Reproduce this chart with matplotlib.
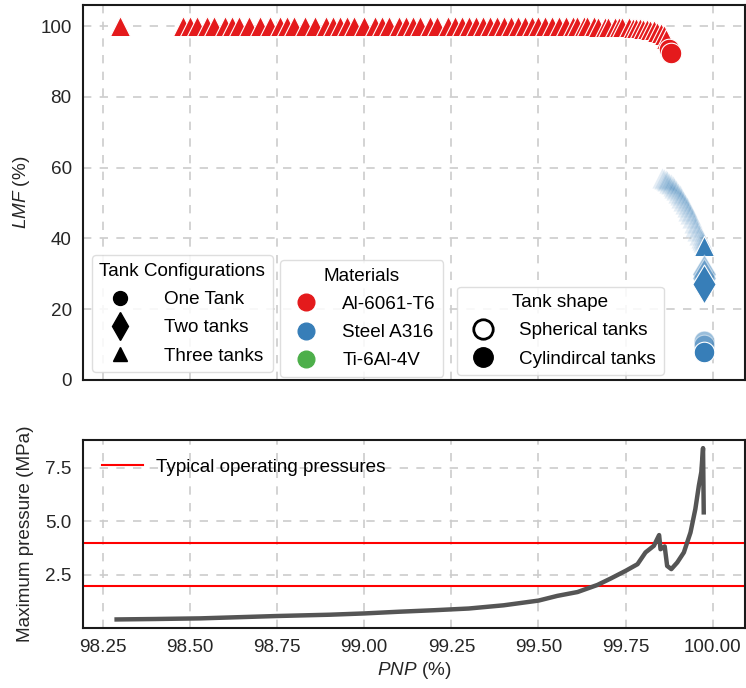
import matplotlib.pyplot as plt
from matplotlib.lines import Line2D

plt.rcParams['font.family'] = ['Liberation Sans', 'DejaVu Sans']
plt.rcParams['mathtext.fontset'] = 'custom'
plt.rcParams['mathtext.it'] = 'Liberation Sans:italic'
plt.rcParams['mathtext.rm'] = 'Liberation Sans'

RED = '#e41a1c'
BLUE = '#377eb8'
GREEN = '#4daf4a'
FS = 13.6

# Al-6061-T6, three tanks
al_tri_x = [98.30, 98.48, 98.50, 98.52, 98.55, 98.57, 98.60, 98.62, 98.64, 98.67,
            98.70, 98.73, 98.76, 98.78, 98.80, 98.83, 98.86, 98.89, 98.91, 98.93,
            98.95, 98.97, 99.00, 99.03, 99.05, 99.07, 99.10, 99.12, 99.14, 99.16,
            99.19, 99.21, 99.24, 99.26, 99.28, 99.30, 99.32, 99.34, 99.36, 99.38,
            99.40, 99.42, 99.44, 99.46, 99.48, 99.50, 99.52, 99.54, 99.56, 99.58,
            99.60, 99.61, 99.63, 99.64, 99.66, 99.67, 99.69, 99.70, 99.72, 99.73,
            99.74, 99.76, 99.77, 99.78, 99.79, 99.80, 99.81, 99.82, 99.83, 99.84,
            99.85, 99.86, 99.865]
al_tri_y = [100.0, 100.0, 100.0, 100.0, 100.0, 100.0, 100.0, 100.0, 100.0, 100.0,
            100.0, 100.0, 100.0, 100.0, 100.0, 100.0, 100.0, 100.0, 100.0, 100.0,
            100.0, 100.0, 100.0, 100.0, 100.0, 100.0, 100.0, 100.0, 100.0, 100.0,
            100.0, 100.0, 100.0, 100.0, 100.0, 100.0, 100.0, 100.0, 100.0, 100.0,
            100.0, 100.0, 100.0, 100.0, 100.0, 100.0, 100.0, 100.0, 100.0, 100.0,
            100.0, 100.0, 100.0, 100.0, 100.0, 99.9, 99.9, 99.9, 99.8, 99.8,
            99.7, 99.7, 99.6, 99.5, 99.4, 99.3, 99.2, 99.0, 98.8, 98.5,
            98.2, 97.5, 96.5]
al_circ_x = [99.875, 99.880]
al_circ_y = [93.5, 92.3]

# Steel A316
steel_tri_sph_x = [99.855, 99.860, 99.865, 99.870, 99.875, 99.880, 99.885, 99.890,
                   99.895, 99.900, 99.905, 99.910, 99.915, 99.920, 99.925, 99.930,
                   99.935, 99.940, 99.945, 99.950, 99.955, 99.960, 99.965, 99.970,
                   99.973]
steel_tri_sph_y = [57.0, 56.8, 56.5, 56.2, 55.8, 55.3, 54.8, 54.2,
                   53.6, 53.0, 52.3, 51.5, 50.7, 49.8, 48.9, 47.9,
                   46.8, 45.7, 44.5, 43.3, 42.0, 40.9, 40.2, 39.6,
                   39.0]
steel_tri_x = [99.975]
steel_tri_y = [37.8]
steel_dia_sph_x = [99.975, 99.975]
steel_dia_sph_y = [30.0, 28.8]
steel_dia_x = [99.975]
steel_dia_y = [27.2]
steel_circ_sph_x = [99.975, 99.975]
steel_circ_sph_y = [11.0, 10.0]
steel_circ_x = [99.975]
steel_circ_y = [7.8]

# maximum pressure along the front
pnp = [98.29, 98.40, 98.53, 98.65, 98.75, 98.90, 99.00, 99.10, 99.20, 99.30,
       99.40, 99.50, 99.554, 99.612, 99.669, 99.707, 99.750, 99.784, 99.807, 99.831,
       99.846, 99.850, 99.862, 99.869, 99.881, 99.898, 99.917, 99.936, 99.950, 99.960,
       99.967, 99.972, 99.974]
max_pressure = [0.42, 0.44, 0.47, 0.53, 0.58, 0.64, 0.70, 0.78, 0.85, 0.93,
                1.08, 1.30, 1.52, 1.70, 2.03, 2.33, 2.69, 3.00, 3.55, 3.86,
                4.36, 3.70, 3.83, 2.92, 2.77, 3.08, 3.55, 4.48, 5.58, 6.67,
                7.30, 8.42, 5.42]
operating_pressures = [4.0, 2.0]

fig = plt.figure(figsize=(7.46, 6.88), dpi=100)
ax1 = fig.add_axes([0.111, 0.4477, 0.8875, 0.545])
ax2 = fig.add_axes([0.111, 0.0872, 0.8875, 0.2733], sharex=ax1)

tri = dict(marker='^', s=210, edgecolor='white', linewidth=0.8)
dia = dict(marker='d', s=390, edgecolor='white', linewidth=0.8)
circ = dict(marker='o', s=220, edgecolor='white', linewidth=0.8)

ax1.scatter(al_tri_x, al_tri_y, color=RED, zorder=3, **tri)
ax1.scatter(al_circ_x, al_circ_y, color=RED, zorder=3, **circ)

ax1.scatter(steel_tri_sph_x, steel_tri_sph_y, color=BLUE, alpha=0.15, zorder=3,
            marker='^', s=210, edgecolor='white', linewidth=1.6)
ax1.scatter(steel_tri_x, steel_tri_y, color=BLUE, zorder=3, **tri)
ax1.scatter(steel_dia_sph_x, steel_dia_sph_y, color=BLUE, alpha=0.5, zorder=3, **dia)
ax1.scatter(steel_dia_x, steel_dia_y, color=BLUE, zorder=3, **dia)
ax1.scatter(steel_circ_sph_x, steel_circ_sph_y, color=BLUE, alpha=0.5, zorder=3, **circ)
ax1.scatter(steel_circ_x, steel_circ_y, color=BLUE, zorder=3, **circ)

ax2.plot(pnp, max_pressure, color='#555555', linewidth=3.2, zorder=3)
for i, p in enumerate(operating_pressures):
    ax2.axhline(p, color='red', linewidth=1.5, zorder=2,
                label='Typical operating pressures' if i == 0 else None)

ax1.set_xlim(98.193, 100.092)
ax1.set_ylim(0, 106)
ax1.set_yticks([0, 20, 40, 60, 80, 100])
ax2.set_xticks([98.25, 98.5, 98.75, 99.0, 99.25, 99.5, 99.75, 100.0])
ax2.set_xticklabels(['98.25', '98.50', '98.75', '99.00', '99.25', '99.50', '99.75', '100.00'])
ax2.set_yticks([2.5, 5.0, 7.5])
ax2.set_ylim(0.02, 8.8)
ax1.tick_params(axis='x', labelbottom=False)

for ax in (ax1, ax2):
    ax.grid(True, linestyle=(0, (5, 5)), color='#cccccc', linewidth=1.2, zorder=0)
    ax.set_axisbelow(True)
    ax.tick_params(length=0, labelsize=FS, labelcolor='0.15', pad=8)
    for sp in ax.spines.values():
        sp.set_color('0.1')
        sp.set_linewidth(1.5)

ax1.set_ylabel('$LMF$ (%)', fontsize=FS, color='0.15', labelpad=6)
ax2.set_ylabel('Maximum pressure (MPa)', fontsize=FS, color='0.15', labelpad=8)
ax2.set_xlabel('$PNP$ (%)', fontsize=FS, color='0.15', labelpad=3)

leg_kw = dict(loc='lower left', fontsize=FS, title_fontsize=FS, borderaxespad=0,
              frameon=True, framealpha=0.85, edgecolor='0.85', fancybox=True,
              labelspacing=0.58)

config_handles = [
    Line2D([], [], linestyle='none', marker='o', color='black', markersize=10),
    Line2D([], [], linestyle='none', marker='d', color='black', markersize=14),
    Line2D([], [], linestyle='none', marker='^', color='black', markersize=10),
]
leg1 = ax1.legend(config_handles, ['One Tank', 'Two tanks', 'Three tanks'],
                  title='Tank Configurations', bbox_to_anchor=(0.0136, 0.021),
                  handletextpad=1.3, **leg_kw)
ax1.add_artist(leg1)

material_handles = [
    Line2D([], [], linestyle='none', marker='o', color=c, markersize=12)
    for c in (RED, BLUE, GREEN)
]
leg2 = ax1.legend(material_handles, ['Al-6061-T6', 'Steel A316', 'Ti-6Al-4V'],
                  title='Materials', bbox_to_anchor=(0.2976, 0.008),
                  handletextpad=0.9, **leg_kw)
ax1.add_artist(leg2)

shape_handles = [
    Line2D([], [], linestyle='none', marker='o', markerfacecolor='white',
           markeredgecolor='black', markeredgewidth=2, markersize=14),
    Line2D([], [], linestyle='none', marker='o', color='black', markersize=14),
]
ax1.legend(shape_handles, ['Spherical tanks', 'Cylindircal tanks'],
           title='Tank shape', bbox_to_anchor=(0.565, 0.013),
           handletextpad=0.9, **leg_kw)

ax2.legend(loc='upper left', fontsize=FS, frameon=False, handlelength=2.2,
           handletextpad=0.7, borderaxespad=0.6)

fig.savefig('out.png', dpi=100)
